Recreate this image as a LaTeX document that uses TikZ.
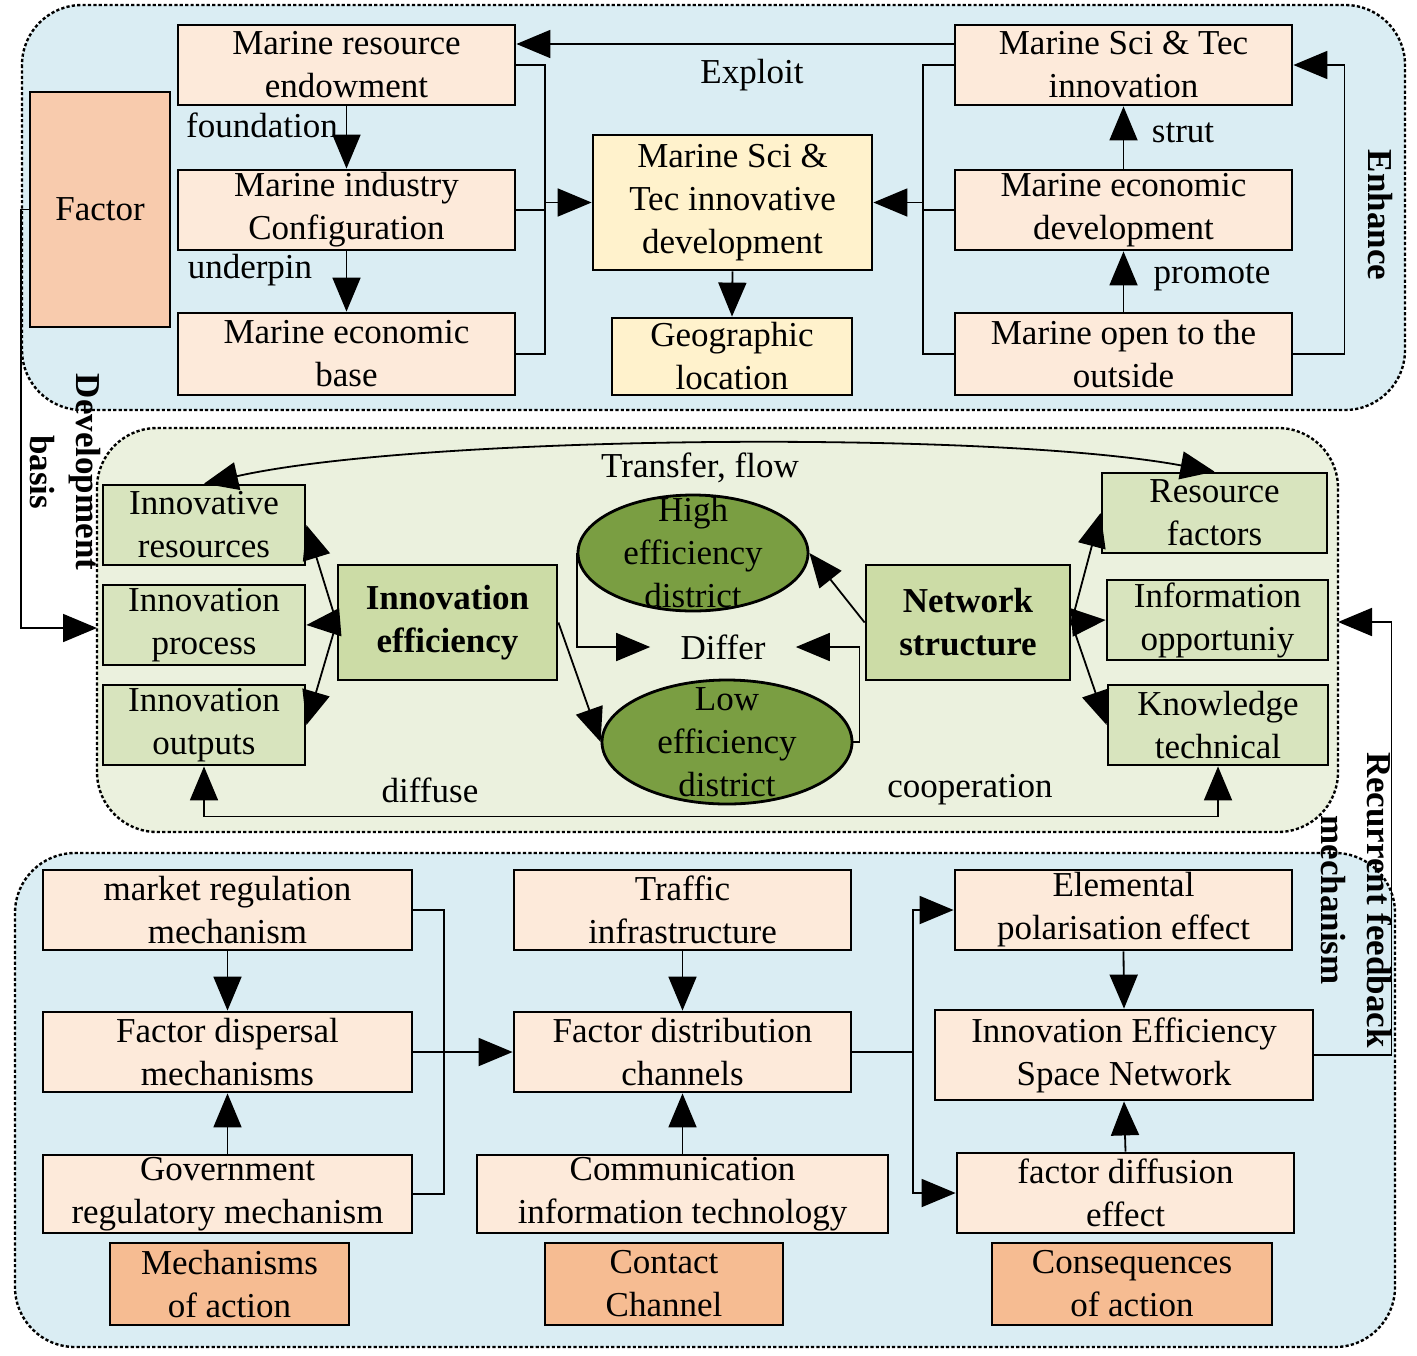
\documentclass[tikz,border=0pt]{standalone}
\usepackage{fontspec}
\setmainfont{Liberation Serif}
\usetikzlibrary{arrows.meta,calc,shapes.geometric}
\definecolor{panelblue}{RGB}{218,237,243}
\definecolor{panelgreen}{RGB}{235,241,222}
\definecolor{peach}{RGB}{253,234,218}
\definecolor{salmon}{RGB}{248,203,173}
\definecolor{orangebox}{RGB}{246,188,146}
\definecolor{paleyellow}{RGB}{255,242,204}
\definecolor{lightolive}{RGB}{216,228,190}
\definecolor{midolive}{RGB}{204,220,166}
\definecolor{darkolive}{RGB}{122,158,66}
\newcommand{\dgfont}{\fontsize{17.5}{21.5}\selectfont}
\newcommand{\dgside}{\fontsize{17.5}{23}\selectfont\bfseries}

\begin{document}
\begin{tikzpicture}[x=0.5pt,y=-0.5pt,
    panel/.style={draw,line width=1.2pt,dash pattern=on 1.6pt off 1.1pt,rounded corners=30pt},
    box/.style={draw,line width=1.4pt,inner sep=0pt,align=center,font=\dgfont},
    peachbox/.style={box,fill=peach},
    keybox/.style={box,fill=salmon},
    actbox/.style={box,fill=orangebox},
    yelbox/.style={box,fill=paleyellow},
    grnbox/.style={box,fill=lightolive},
    corebox/.style={box,fill=midolive,font=\dgfont\bfseries},
    dist/.style={ellipse,draw,line width=1.4pt,fill=darkolive,inner sep=0pt},
    lbl/.style={font=\dgfont,inner sep=0pt,align=center},
    arr/.style={line width=0.9pt,-{Triangle[length=17pt,width=14pt]}},
    arrboth/.style={line width=0.9pt,{Triangle[length=17pt,width=14pt]}-{Triangle[length=17pt,width=14pt]}},
    cline/.style={line width=0.7pt}]
\useasboundingbox (0,0) rectangle (1417,1355);
% panels
\draw[panel,fill=panelblue] (22,5) rectangle (1405,410);
\draw[panel,fill=panelgreen] (97,428) rectangle (1338,832);
\draw[panel,fill=panelblue] (15,853) rectangle (1395,1347);
\coordinate (midW) at (97,628);
\coordinate (midE) at (1338,622);

% top panel
\node[keybox,minimum width=70pt,minimum height=117.5pt] (factor) at (100,209.5) {Factor};
\node[peachbox,minimum width=168.5pt,minimum height=40pt] (endow) at (346.5,65) {Marine resource\\endowment};
\node[peachbox,minimum width=168.5pt,minimum height=40pt] (indus) at (346.5,210) {Marine industry\\Configuration};
\node[peachbox,minimum width=168.5pt,minimum height=41pt] (base) at (346.5,354) {Marine economic\\base};
\node[yelbox,minimum width=139.5pt,minimum height=67.5pt] (sidev) at (732.5,202.5) {Marine Sci \&\\Tec innovative\\development};
\node[yelbox,minimum width=120pt,minimum height=38.5pt] (geo) at (732,356.5) {Geographic\\location};
\node[peachbox,minimum width=168.5pt,minimum height=40pt] (sti) at (1123.5,65) {Marine Sci \& Tec\\innovation};
\node[peachbox,minimum width=168.5pt,minimum height=40pt] (econ) at (1123.5,210) {Marine economic\\development};
\node[peachbox,minimum width=168.5pt,minimum height=41pt] (open) at (1123.5,354) {Marine open to the\\outside};
\coordinate (lbr) at (545,210);
\coordinate (rbr) at (923,210);
\draw[arr] ([yshift=10.5pt]sti.west) -- ([yshift=10.5pt]endow.east);
\node[lbl] at (752,75) {Exploit};
\draw[arr] (endow.south) -- (indus.north);
\node[lbl] at (262,125) {foundation};
\draw[arr] (indus.south) -- (base.north);
\node[lbl] at (250,270) {underpin};
\draw[cline] (endow.east) -| (lbr) |- (base.east);
\draw[cline] (indus.east) -- (lbr);
\draw[arr] (lbr |- sidev.west) -- (sidev.west);
\draw[cline] (sti.west) -| (rbr) |- (open.west);
\draw[cline] (econ.west) -- (rbr);
\draw[arr] (rbr |- sidev.east) -- (sidev.east);
\draw[arr] (sidev.south) -- (geo.north);
\draw[arr] (econ.north) -- (sti.south);
\node[lbl] at (1183,133) {strut};
\draw[arr] (open.north) -- (econ.south);
\node[lbl] at (1212,277) {promote};
\draw[arr] (open.east) -- ++(51,0) |- (sti.east);
\node[lbl,font=\dgside,rotate=-90] at (1380,215) {Enhance};

% development basis
\draw[arr] (factor.west) -- ++(-8,0) |- (midW);
\node[lbl,font=\dgside,rotate=-90] at (65,472) {Development\\basis};

% middle panel
\node[grnbox,minimum width=101pt,minimum height=40pt] (ires) at (204,525) {Innovative\\resources};
\node[grnbox,minimum width=101pt,minimum height=40pt] (iproc) at (204,625) {Innovation\\process};
\node[grnbox,minimum width=101pt,minimum height=40pt] (iout) at (204,725) {Innovation\\outputs};
\node[corebox,minimum width=109.5pt,minimum height=57.5pt] (ieff) at (447.5,622.5) {Innovation\\efficiency};
\node[dist,minimum width=115pt,minimum height=58pt] (high) at (693,553) {};
\node[lbl] at (high) {High\\efficiency\\district};
\node[dist,minimum width=125pt,minimum height=62pt] (low) at (727,742) {};
\node[lbl] at (low) {Low\\efficiency\\district};
\node[lbl,inner xsep=15pt] (differ) at (723,647) {Differ};
\node[corebox,minimum width=102pt,minimum height=57.5pt] (nets) at (968,622.5) {Network\\structure};
\node[grnbox,minimum width=112.5pt,minimum height=40pt] (resf) at (1214.5,513) {Resource\\factors};
\node[grnbox,minimum width=110.5pt,minimum height=40pt] (info) at (1217.5,620) {Information\\opportuniy};
\node[grnbox,minimum width=110pt,minimum height=40pt] (know) at (1218,725) {Knowledge\\technical};
\draw[arrboth] (ires.north) .. controls (420,435) and (990,430) .. (resf.north);
\node[lbl] at (700,468) {Transfer, flow};
\foreach \target in {ires,iproc,iout}
    \draw[arr] (ieff.west) -- (\target.east);
\foreach \target in {resf,info,know}
    \draw[arr] (nets.east) -- (\target.west);
\draw[arr] (ieff.east) -- (low.west);
\draw[arr] (nets.west) -- (high.east);
\draw[arr] (high.west) |- (differ.west);
\draw[arr] (low.east) -- ++(6,0) |- (differ.east);
\draw[arrboth] (iout.south) -- ++(0,50) -| (know.south);
\node[lbl] at (430,790) {diffuse};
\node[lbl] at (970,790) {cooperation};

% bottom panel
\node[peachbox,minimum width=184.5pt,minimum height=40pt] (market) at (227.5,910) {market regulation\\mechanism};
\node[peachbox,minimum width=184.5pt,minimum height=40pt] (disp) at (227.5,1052) {Factor dispersal\\mechanisms};
\node[peachbox,minimum width=184.5pt,minimum height=39pt] (gov) at (227.5,1194) {Government\\regulatory mechanism};
\node[actbox,minimum width=119.5pt,minimum height=41pt] (mech) at (229.5,1284) {Mechanisms\\of action};
\node[peachbox,minimum width=168.5pt,minimum height=40pt] (traf) at (682.5,910) {Traffic\\infrastructure};
\node[peachbox,minimum width=168.5pt,minimum height=40pt] (distr) at (682.5,1052) {Factor distribution\\channels};
\node[peachbox,minimum width=205.5pt,minimum height=39pt] (comm) at (682.5,1194) {Communication\\information technology};
\node[actbox,minimum width=119pt,minimum height=41pt] (contact) at (664,1284) {Contact\\Channel};
\node[peachbox,minimum width=168.5pt,minimum height=40pt] (elem) at (1123.5,910) {Elemental\\polarisation effect};
\node[peachbox,minimum width=189pt,minimum height=45pt] (iesn) at (1124,1055) {Innovation Efficiency\\Space Network};
\node[peachbox,minimum width=168.5pt,minimum height=40pt] (fdiff) at (1125.5,1193) {factor diffusion\\effect};
\node[actbox,minimum width=140pt,minimum height=41pt] (conseq) at (1132,1284) {Consequences\\of action};
\coordinate (bl) at (444,1052);
\coordinate (br) at (913,1052);
\draw[arr] (market.south) -- (disp.north);
\draw[arr] (gov.north) -- (disp.south);
\draw[cline] (market.east) -| (bl) |- (gov.east);
\draw[cline] (disp.east) -- (bl);
\draw[arr] (bl) -- (distr.west);
\draw[arr] (traf.south) -- (distr.north);
\draw[arr] (comm.north) -- (distr.south);
\draw[cline] (distr.east) -- (br);
\draw[arr] (br) |- (elem.west);
\draw[arr] (br) |- (fdiff.west);
\draw[arr] (elem.south) -- (iesn.north);
\draw[arr] (fdiff.north) -- (iesn.south);

% recurrent feedback
\draw[arr] (iesn.east) -- ++(77,0) |- (midE);
\node[lbl,font=\dgside,rotate=-90] at (1357,900) {Recurrent feedback\\mechanism};
\end{tikzpicture}
\end{document}
